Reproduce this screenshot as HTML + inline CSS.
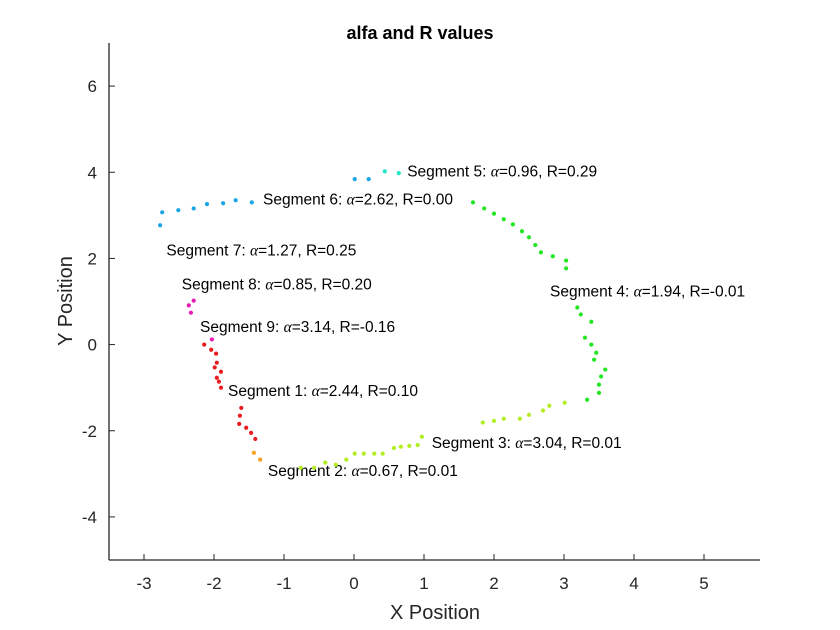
<!DOCTYPE html>
<html><head><meta charset="utf-8"><style>
body{margin:0;background:#fff}
svg{display:block;font-family:"Liberation Sans",Arial,sans-serif}
</style></head><body>
<svg id="c" width="840" height="630"></svg>
<script>
const segNames=["Segment 1","Segment 2","Segment 3","Segment 4","Segment 5","Segment 6","Segment 7","Segment 8","Segment 9"];
const segColors=["#e81c1c","#f5a024","#b2ee22","#22e622","#22e6c6","#1aa6e6","#1aa6e6","#e81cb4","#e81cb4"];
const segX=[
[-2.14,-2.04,-1.97,-1.96,-1.99,-1.90,-1.96,-1.93,-1.90,-1.61,-1.63,-1.64,-1.54,-1.47,-1.41],
[-1.43,-1.34],
[3.01,2.79,2.70,2.50,2.37,2.14,2.0,1.84,0.97,0.91,0.79,0.67,0.57,0.41,0.29,0.14,0.01,-0.11,-0.26,-0.41,-0.57,-0.76],
[1.70,1.86,2.00,2.14,2.27,2.40,2.50,2.59,2.67,2.84,3.03,3.03,3.19,3.24,3.39,3.30,3.39,3.46,3.43,3.59,3.53,3.50,3.50,3.33],
[0.44,0.64],
[-1.46,-1.69,-1.87,-2.10,-2.29,-2.51,-2.74,-2.77,0.01,0.21],
[],
[-2.29,-2.36,-2.33],
[-2.03]];
const segY=[
[0.0,-0.12,-0.21,-0.42,-0.53,-0.63,-0.77,-0.86,-1.0,-1.47,-1.65,-1.84,-1.93,-2.05,-2.19],
[-2.51,-2.67],
[-1.35,-1.42,-1.53,-1.63,-1.72,-1.72,-1.77,-1.81,-2.14,-2.33,-2.35,-2.37,-2.40,-2.53,-2.53,-2.53,-2.53,-2.67,-2.79,-2.74,-2.86,-2.86],
[3.30,3.16,3.04,2.91,2.79,2.63,2.49,2.31,2.14,2.05,1.95,1.77,0.86,0.70,0.53,0.16,0.0,-0.19,-0.35,-0.58,-0.74,-0.93,-1.12,-1.28],
[4.02,3.98],
[3.30,3.35,3.28,3.26,3.16,3.12,3.07,2.77,3.84,3.84],
[],
[1.02,0.91,0.74],
[0.12]];
const alphas=["2.44","0.67","3.04","1.94","0.96","2.62","1.27","0.85","3.14"];
const Rs=["0.10","0.01","0.01","-0.01","0.29","0.00","0.25","0.20","-0.16"];
const labelX=[-1.8,-1.23,1.11,2.8,0.76,-1.3,-2.68,-2.46,-2.2];
const labelY=[-1.1,-2.96,-2.31,1.21,4.0,3.35,2.16,1.37,0.38];
const xTicks=[-3,-2,-1,0,1,2,3,4,5];
const yTicks=[-4,-2,0,2,4,6];
const X0=109,X1=760,Y0=560,Y1=43,xmin=-3.5,xmax=5.8,ymin=-5,ymax=7;
const sx=v=>X0+(v-xmin)/(xmax-xmin)*(X1-X0);
const sy=v=>Y0-(v-ymin)/(ymax-ymin)*(Y0-Y1);
const svg=document.getElementById('c');
const NS='http://www.w3.org/2000/svg';
function mk(t,a,txt){const e=document.createElementNS(NS,t);for(const k in a)e.setAttribute(k,a[k]);if(txt!==undefined)e.textContent=txt;svg.appendChild(e);return e;}
let e;
e=mk('line',{x1:X0,y1:Y0,x2:X1,y2:Y0,stroke:'#262626','stroke-width':1.3});


e=mk('line',{x1:X0,y1:Y0,x2:X0,y2:Y1,stroke:'#262626','stroke-width':1.3});


xTicks.forEach(t=>{
 e=mk('line',{x1:sx(t),y1:Y0,x2:sx(t),y2:Y0-6,stroke:'#262626'});
 
 
 e=mk('text',{x:sx(t),y:Y0+29,'text-anchor':'middle','font-size':17,fill:'#262626'},String(t));
 
 
});
yTicks.forEach(t=>{
 e=mk('line',{x1:X0,y1:sy(t),x2:X0+6,y2:sy(t),stroke:'#262626'});
 
 
 e=mk('text',{x:X0-12,y:sy(t)+6,'text-anchor':'end','font-size':17,fill:'#262626'},String(t));
 
 
});
e=mk('text',{x:420,y:39,'text-anchor':'middle','font-size':18,'font-weight':'bold',fill:'#000'},'alfa and R values');


e=mk('text',{x:435,y:619,'text-anchor':'middle','font-size':20,fill:'#262626'},'X Position');


e=mk('text',{x:72,y:301,'text-anchor':'middle','font-size':20,fill:'#262626',transform:'rotate(-90 72 301)'},'Y Position');


segX.forEach((xs,i)=>{
 xs.forEach((x,j)=>{
  e=mk('circle',{cx:sx(x),cy:sy(segY[i][j]),r:2.1,fill:segColors[i]});
  
  
 });
 e=mk('text',{x:sx(labelX[i]),y:sy(labelY[i])+4,'font-size':15.5,fill:'#000'});
 
 
 const a=document.createElementNS(NS,'tspan');a.textContent=segNames[i]+': ';e.appendChild(a);
 const b=document.createElementNS(NS,'tspan');b.setAttribute('font-family','Liberation Serif,serif');b.setAttribute('font-style','italic');b.textContent='\u03b1';e.appendChild(b);
 const c=document.createElementNS(NS,'tspan');c.textContent='='+alphas[i]+', R='+Rs[i];e.appendChild(c);
});
</script>
</body></html>
